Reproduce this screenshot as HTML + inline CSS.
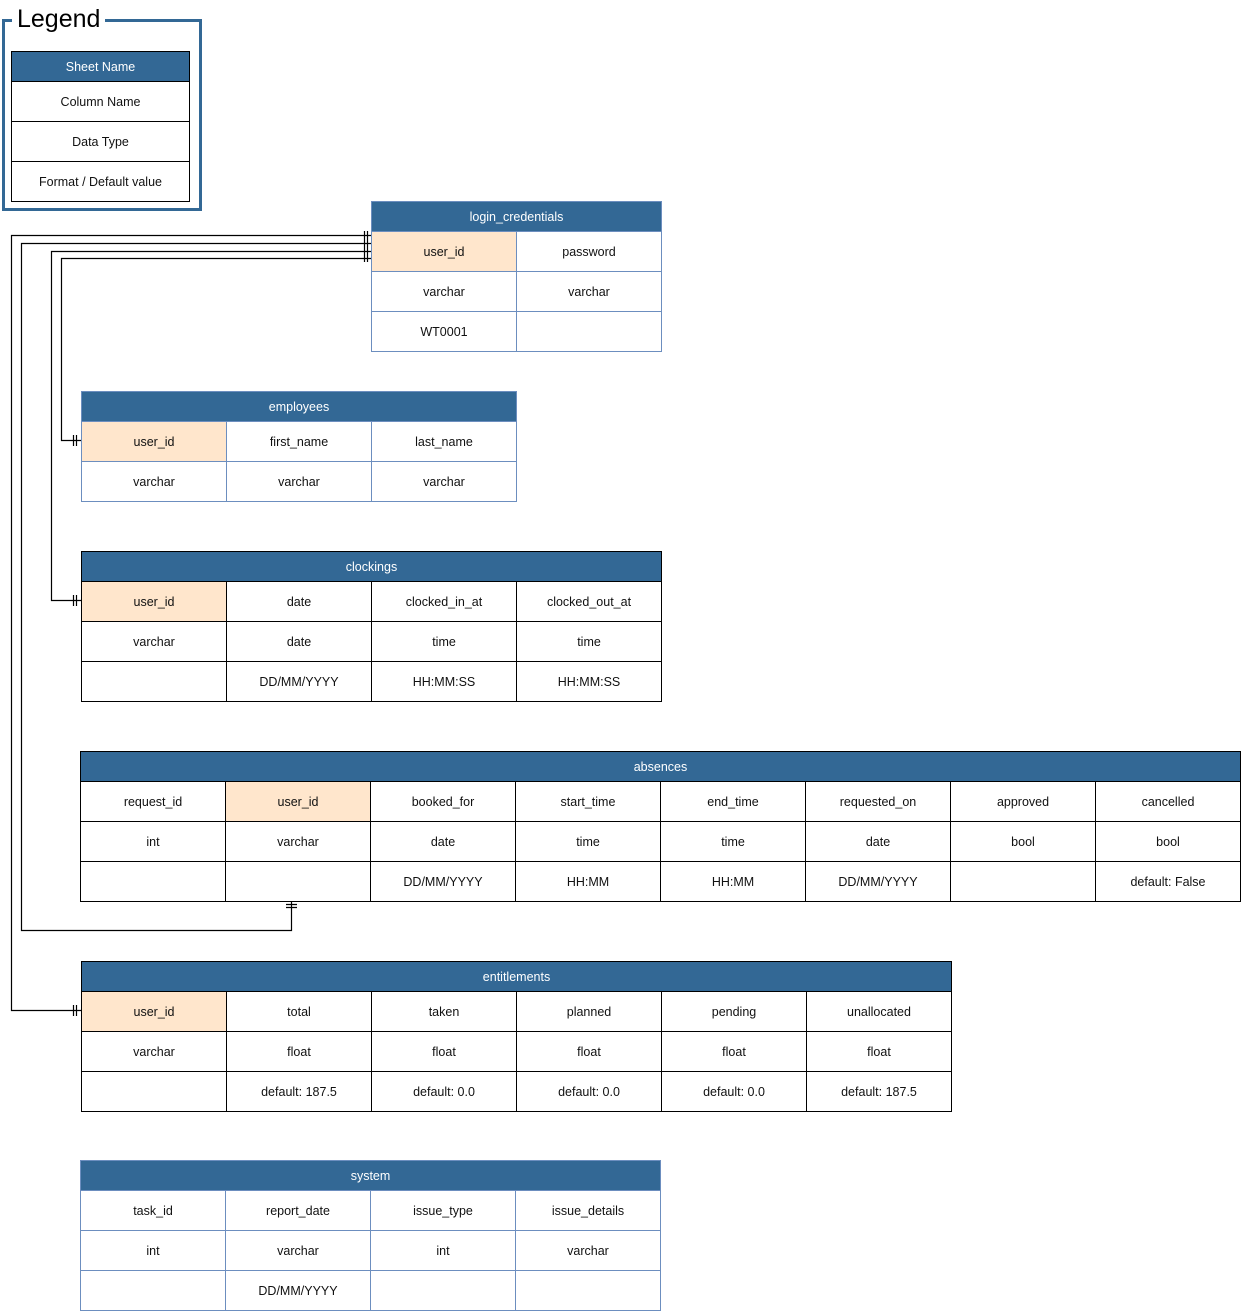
<!DOCTYPE html>
<html><head><style>
body{margin:0;width:1241px;height:1310px;position:relative;background:#fff;font-family:"Liberation Sans",sans-serif;overflow:hidden}
.t{position:absolute;border-collapse:collapse;font-size:12.5px;color:#111}
.t td{border:1px solid #000;height:39px;width:144px;text-align:center;padding:0}
.t th{background:#336895;color:#fff;font-weight:normal;height:29px;padding:0;border:1px solid #000;font-size:12.5px}
.b td,.b th{border-color:#6c8ebf}
.k{background:#ffe6cc}
</style></head><body>
<div style="position:absolute;left:2px;top:19px;width:194px;height:186px;border:3px solid #336895"></div>
<div style="position:absolute;left:12px;top:2px;background:#fff;font-size:25px;padding:0 5px;line-height:34px">Legend</div>
<table class="t" style="left:11px;top:51px"><tr><th style="width:177px">Sheet Name</th></tr>
<tr><td style="width:177px">Column Name</td></tr><tr><td style="width:177px">Data Type</td></tr><tr><td style="width:177px">Format / Default value</td></tr></table>

<table class="t b" style="left:371px;top:201px"><tr><th colspan="2">login_credentials</th></tr>
<tr><td class="k">user_id</td><td>password</td></tr><tr><td>varchar</td><td>varchar</td></tr><tr><td>WT0001</td><td></td></tr></table>

<table class="t b" style="left:81px;top:391px"><tr><th colspan="3">employees</th></tr>
<tr><td class="k">user_id</td><td>first_name</td><td>last_name</td></tr><tr><td>varchar</td><td>varchar</td><td>varchar</td></tr></table>

<table class="t" style="left:81px;top:551px"><tr><th colspan="4">clockings</th></tr>
<tr><td class="k">user_id</td><td>date</td><td>clocked_in_at</td><td>clocked_out_at</td></tr>
<tr><td>varchar</td><td>date</td><td>time</td><td>time</td></tr>
<tr><td></td><td>DD/MM/YYYY</td><td>HH:MM:SS</td><td>HH:MM:SS</td></tr></table>

<table class="t" style="left:80px;top:751px"><tr><th colspan="8">absences</th></tr>
<tr><td>request_id</td><td class="k">user_id</td><td>booked_for</td><td>start_time</td><td>end_time</td><td>requested_on</td><td>approved</td><td>cancelled</td></tr>
<tr><td>int</td><td>varchar</td><td>date</td><td>time</td><td>time</td><td>date</td><td>bool</td><td>bool</td></tr>
<tr><td></td><td></td><td>DD/MM/YYYY</td><td>HH:MM</td><td>HH:MM</td><td>DD/MM/YYYY</td><td></td><td>default: False</td></tr></table>

<table class="t" style="left:81px;top:961px"><tr><th colspan="6">entitlements</th></tr>
<tr><td class="k">user_id</td><td>total</td><td>taken</td><td>planned</td><td>pending</td><td>unallocated</td></tr>
<tr><td>varchar</td><td>float</td><td>float</td><td>float</td><td>float</td><td>float</td></tr>
<tr><td></td><td>default: 187.5</td><td>default: 0.0</td><td>default: 0.0</td><td>default: 0.0</td><td>default: 187.5</td></tr></table>

<table class="t b" style="left:80px;top:1160px"><tr><th colspan="4">system</th></tr>
<tr><td>task_id</td><td>report_date</td><td>issue_type</td><td>issue_details</td></tr>
<tr><td>int</td><td>varchar</td><td>int</td><td>varchar</td></tr>
<tr><td></td><td>DD/MM/YYYY</td><td></td><td></td></tr></table>

<svg style="position:absolute;left:0;top:0" width="1241" height="1310" fill="none" stroke="#000" stroke-width="1.2">
<path d="M371 235.5H11.5V1010.5H81"/>
<path d="M371 243.5H21.5V930.5H291.5V901"/>
<path d="M371 251.5H51.5V600.5H81"/>
<path d="M371 258.5H61.5V440.5H81"/>
<path d="M364.5 231V262M367.5 231V262"/>
<path d="M73.5 435V446M76.5 435V446"/>
<path d="M73.5 595V606M76.5 595V606"/>
<path d="M73.5 1005V1016M76.5 1005V1016"/>
<path d="M286 904.5H297M286 907.5H297"/>
</svg>
</body></html>
